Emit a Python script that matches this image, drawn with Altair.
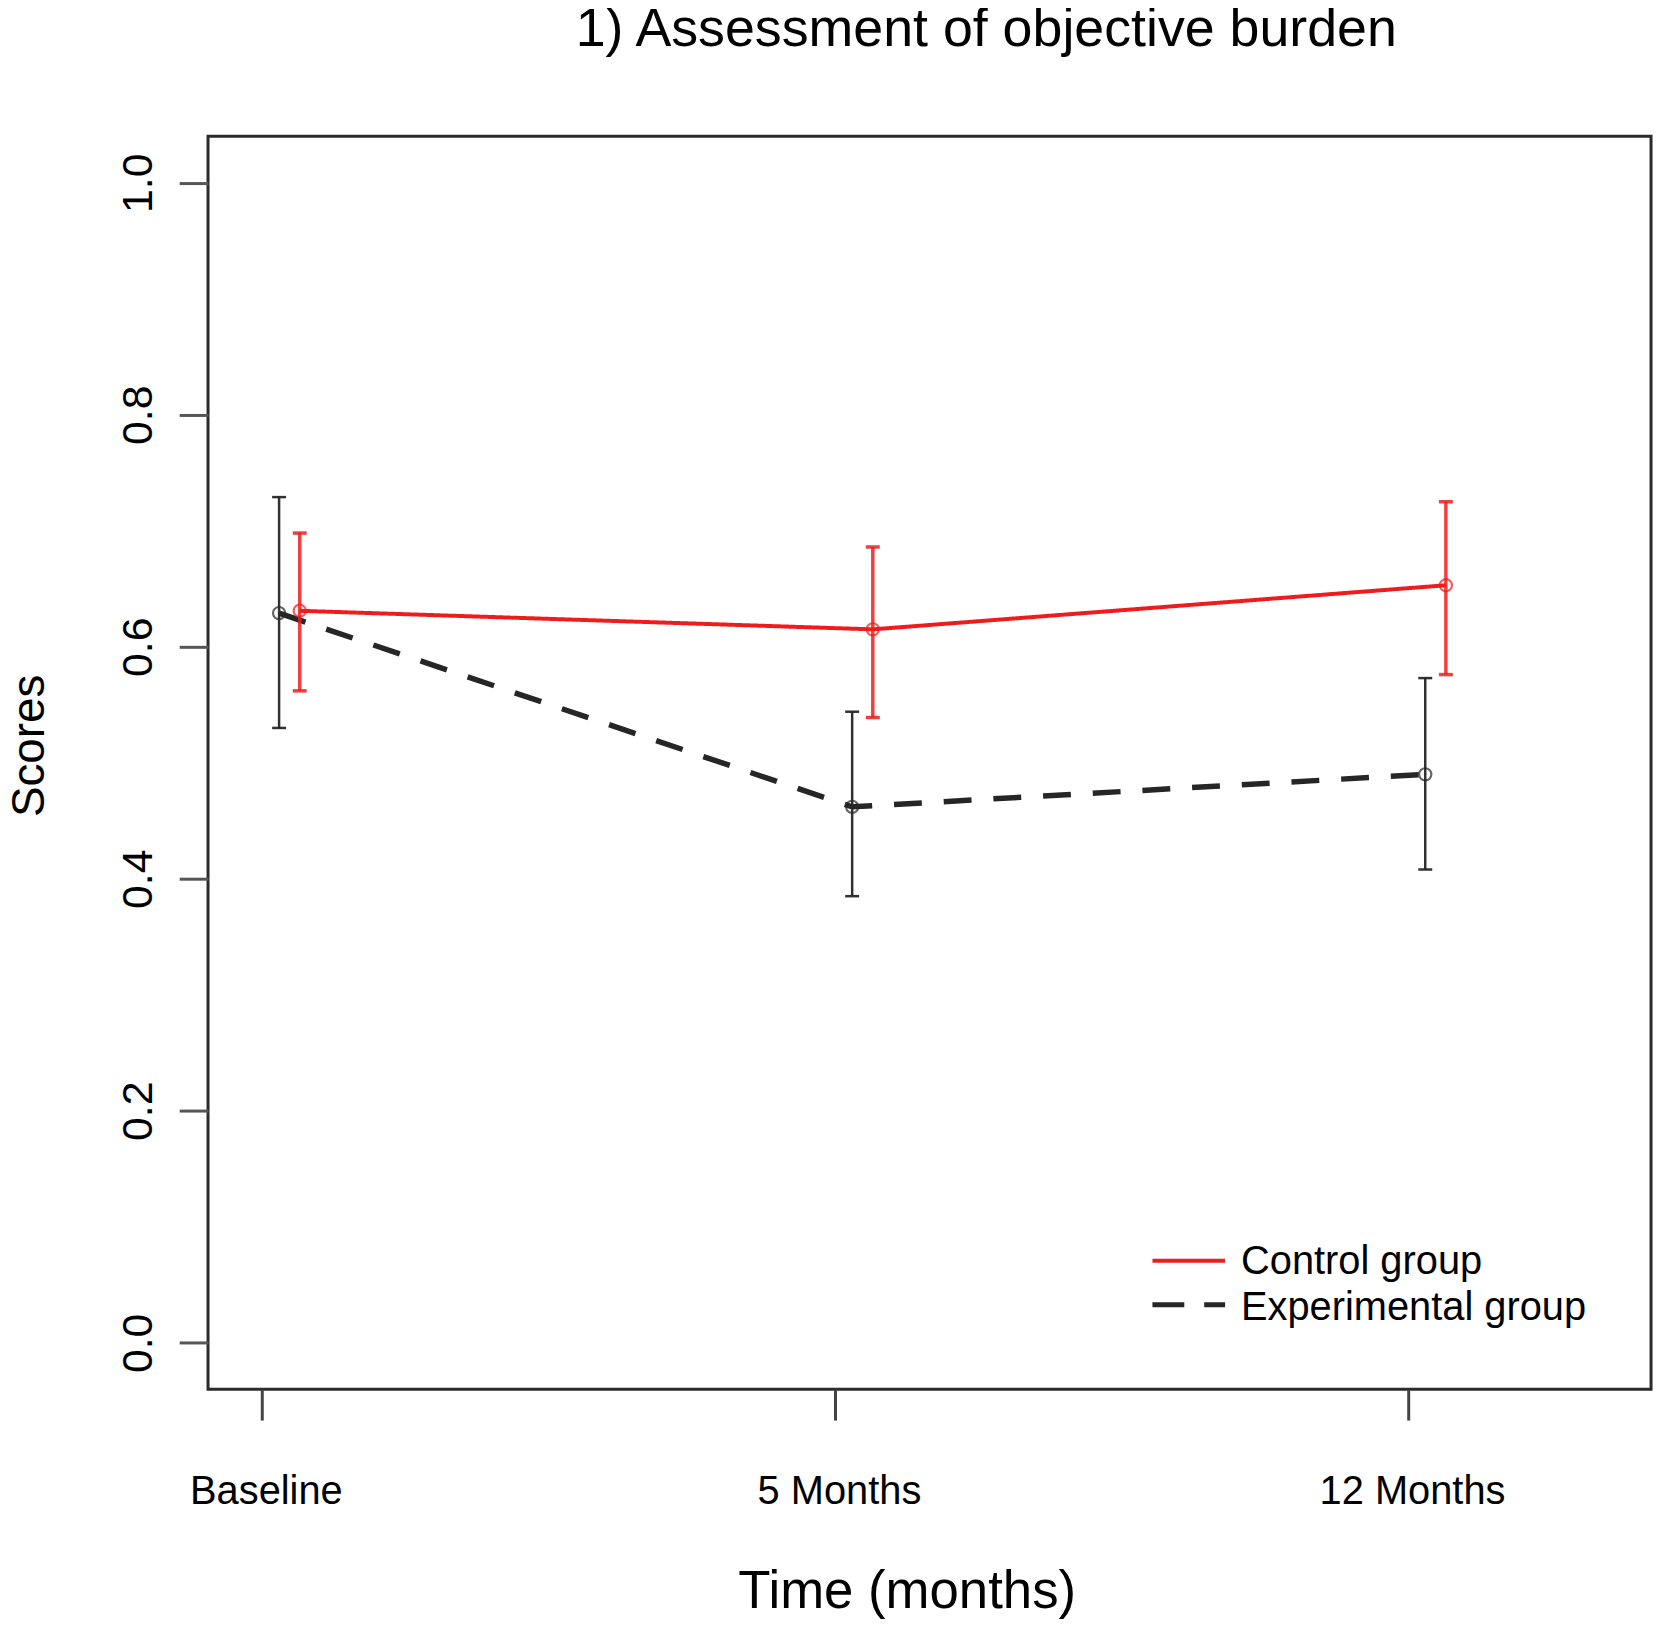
import json

import altair as alt
import pandas as pd

chart_title = "1) Assessment of objective burden"
time_labels = ["Baseline", "5 Months", "12 Months"]
time_index = [1, 2, 3]
groups = ["Control group", "Experimental group"]

control_mean = [0.631, 0.615, 0.653]
control_low = [0.562, 0.539, 0.576]
control_high = [0.698, 0.686, 0.725]

experimental_mean = [0.629, 0.462, 0.490]
experimental_low = [0.530, 0.385, 0.408]
experimental_high = [0.729, 0.544, 0.573]

# small sideways shift per group so the error bars don't sit on top of each other
shift = {"Control group": 0.066, "Experimental group": 0.03}

rows = []
for g, means, lows, highs in [
    (groups[0], control_mean, control_low, control_high),
    (groups[1], experimental_mean, experimental_low, experimental_high),
]:
    for lab, i, m, lo, hi in zip(time_labels, time_index, means, lows, highs):
        rows.append(dict(group=g, time=lab, xpos=i + shift[g], mean=m, low=lo, high=hi))
df = pd.DataFrame(rows)

FONT = "Liberation Sans"
RED = "#ef1c1c"
BLACK = "#262626"

x_axis = alt.Axis(
    values=time_index,
    labelExpr=f"{json.dumps(time_labels)}[datum.value - 1]",
    domain=False, grid=False,
    tickSize=31, tickWidth=3, tickColor="#444",
    labelFont=FONT, labelFontSize=40, labelColor="black", labelBaseline="alphabetic",
    labelPadding=84, labelFlush=False, labelOverlap=False, labelLimit=0, labelOffset=4,
    title="Time (months)", titleFont=FONT, titleFontSize=53, titleFontWeight="normal",
    titleColor="black", titleX=702, titleY=219,
    titleAlign="center", titleBaseline="alphabetic",
)
y_axis = alt.Axis(
    values=[0.0, 0.2, 0.4, 0.6, 0.8, 1.0], format=".1f",
    domain=False, grid=False,
    tickSize=29, tickWidth=3, tickColor="#555",
    labelFont=FONT, labelFontSize=43, labelColor="black", labelAngle=270,
    labelAlign="center", labelBaseline="alphabetic", labelPadding=28, labelLimit=0,
    title="Scores", titleFont=FONT, titleFontSize=46, titleFontWeight="normal",
    titleColor="black", titleAngle=270, titleX=-165, titleY=612,
    titleAlign="center", titleBaseline="alphabetic",
)

x_scale = alt.Scale(domain=[0.906, 3.424], nice=False, zero=False)
y_scale = alt.Scale(domain=[-0.04, 1.04], nice=False, zero=False)

base = alt.Chart(df).encode(
    x=alt.X("xpos:Q", scale=x_scale, axis=x_axis),
)


def group_layers(name, color, width, dash, bar_width, bar_opacity):
    g = base.transform_filter(alt.datum.group == name)
    bars = g.mark_rule(color=color, strokeWidth=bar_width, opacity=bar_opacity).encode(
        y=alt.Y("low:Q", scale=y_scale, axis=y_axis), y2="high:Q"
    )
    cap_lo = g.mark_tick(orient="horizontal", size=14, thickness=bar_width,
                         color=color, opacity=bar_opacity).encode(y="low:Q")
    cap_hi = g.mark_tick(orient="horizontal", size=14, thickness=bar_width,
                         color=color, opacity=bar_opacity).encode(y="high:Q")
    line = g.mark_line(color=color, strokeWidth=width, strokeDash=dash).encode(y="mean:Q")
    pts = g.mark_point(shape="circle", filled=False, size=150, strokeWidth=2.2,
                       color=color).encode(y="mean:Q")
    return [bars, cap_lo, cap_hi, line, pts]


exp_layers = group_layers(groups[1], BLACK, 5.5, [28, 22], 2.5, 0.95)
ctl_layers = group_layers(groups[0], RED, 4, [1, 0], 3.5, 0.85)

# title and in-plot legend
title = alt.Chart(pd.DataFrame({"t": [chart_title]})).mark_text(
    fontSize=54, font=FONT, align="center", baseline="alphabetic", color="black"
).encode(x=alt.value(782), y=alt.value(-91), text="t:N")

leg_df = pd.DataFrame({"label": groups})
leg_red = alt.Chart(leg_df).transform_filter(alt.datum.label == groups[0]).mark_rule(
    color=RED, strokeWidth=4
).encode(x=alt.value(949), x2=alt.value(1022), y=alt.value(1130))
leg_black = alt.Chart(leg_df).transform_filter(alt.datum.label == groups[1]).mark_rule(
    color=BLACK, strokeWidth=5, strokeDash=[32, 20]
).encode(x=alt.value(949), x2=alt.value(1022), y=alt.value(1174))
leg_txt1 = alt.Chart(leg_df).transform_filter(alt.datum.label == groups[0]).mark_text(
    fontSize=40, font=FONT, align="left", baseline="alphabetic", color="black"
).encode(x=alt.value(1038), y=alt.value(1143), text="label:N")
leg_txt2 = alt.Chart(leg_df).transform_filter(alt.datum.label == groups[1]).mark_text(
    fontSize=40, font=FONT, align="left", baseline="alphabetic", color="black"
).encode(x=alt.value(1038), y=alt.value(1189), text="label:N")

chart = alt.layer(
    *exp_layers, *ctl_layers, title, leg_red, leg_black, leg_txt1, leg_txt2
).properties(
    width=1450,
    height=1259,
    background="white",
    autosize=alt.AutoSizeParams(type="none"),
    padding={"left": 201, "top": 125, "right": 8, "bottom": 235},
).configure_view(
    stroke="#2b2b2b", strokeWidth=3
)

chart.save("out.html", embed_options={"renderer": "svg", "actions": False})
